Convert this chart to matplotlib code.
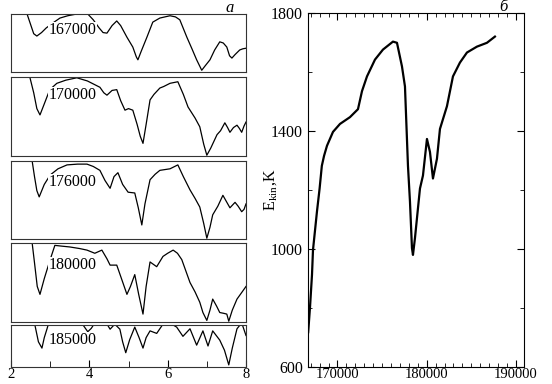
import numpy as np
import matplotlib.pyplot as plt
from matplotlib.ticker import MultipleLocator

plt.rcParams['font.family'] = ['Liberation Serif', 'DejaVu Serif']
plt.rcParams['mathtext.fontset'] = 'stix'

# panel a: profiles at different steps (y normalised to panel height)
steps = ['167000', '170000', '176000', '180000', '185000']

x167 = [2.35, 2.41, 2.5, 2.58, 2.66, 2.78, 2.9, 3.0, 3.1, 3.25, 3.45, 3.68, 3.96, 4.1, 4.25, 4.35,
        4.45, 4.58, 4.7, 4.8, 4.96, 5.11, 5.2, 5.24, 5.32, 5.47, 5.62, 5.8, 6.06, 6.2, 6.31, 6.49,
        6.62, 6.74, 6.87, 6.95, 7.08, 7.2, 7.33, 7.42, 7.51, 7.58, 7.64, 7.72, 7.84, 7.92, 8.0]
y167 = [1.1, 1.0, 0.82, 0.66, 0.62, 0.68, 0.76, 0.81, 0.86, 0.93, 0.97, 1.0, 1.0, 0.9, 0.76, 0.68,
        0.67, 0.8, 0.88, 0.8, 0.6, 0.43, 0.26, 0.21, 0.35, 0.6, 0.86, 0.93, 0.97, 0.95, 0.9, 0.6,
        0.4, 0.21, 0.03, 0.1, 0.21, 0.38, 0.52, 0.5, 0.43, 0.28, 0.24, 0.3, 0.38, 0.4, 0.41]

x170 = [2.42, 2.48, 2.58, 2.66, 2.74, 2.85, 2.99, 3.17, 3.4, 3.68, 3.95, 4.27, 4.37, 4.45, 4.58,
        4.7, 4.8, 4.91, 5.0, 5.11, 5.22, 5.3, 5.37, 5.45, 5.55, 5.65, 5.8, 5.9, 6.06, 6.26, 6.4,
        6.52, 6.7, 6.82, 6.92, 7.0, 7.1, 7.26, 7.35, 7.46, 7.53, 7.59, 7.68, 7.77, 7.83, 7.89, 7.95, 8.0]
y170 = [1.1, 1.0, 0.8, 0.6, 0.52, 0.66, 0.84, 0.92, 0.96, 0.99, 0.95, 0.87, 0.8, 0.77, 0.83,
        0.84, 0.7, 0.58, 0.6, 0.58, 0.4, 0.25, 0.16, 0.4, 0.71, 0.78, 0.86, 0.88, 0.92, 0.94, 0.78,
        0.62, 0.48, 0.37, 0.15, 0.01, 0.1, 0.27, 0.32, 0.42, 0.36, 0.3, 0.36, 0.39, 0.35, 0.3, 0.38, 0.43]

x176 = [2.0, 2.54, 2.6, 2.66, 2.72, 2.85, 3.0, 3.2, 3.43, 3.7, 3.94, 4.1, 4.27, 4.4, 4.53, 4.63,
        4.73, 4.85, 4.99, 5.16, 5.25, 5.34, 5.42, 5.55, 5.68, 5.8, 6.06, 6.26, 6.4, 6.57, 6.7,
        6.82, 6.92, 7.0, 7.08, 7.15, 7.28, 7.41, 7.5, 7.59, 7.72, 7.8, 7.89, 7.95, 8.0]
y176 = [1.0, 1.0, 0.8, 0.62, 0.54, 0.7, 0.82, 0.9, 0.95, 0.96, 0.96, 0.93, 0.88, 0.75, 0.65, 0.8,
        0.85, 0.7, 0.6, 0.59, 0.4, 0.18, 0.45, 0.76, 0.83, 0.88, 0.9, 0.95, 0.8, 0.63, 0.52,
        0.41, 0.2, 0.01, 0.15, 0.31, 0.42, 0.56, 0.48, 0.4, 0.47, 0.42, 0.35, 0.38, 0.45]

x180 = [2.48, 2.54, 2.6, 2.67, 2.74, 2.85, 3.0, 3.12, 3.3, 3.5, 3.75, 3.94, 4.14, 4.32, 4.45, 4.53,
        4.7, 4.82, 4.96, 5.05, 5.16, 5.26, 5.37, 5.45, 5.55, 5.72, 5.88, 6.0, 6.14, 6.25, 6.36,
        6.57, 6.7, 6.82, 6.9, 7.0, 7.08, 7.15, 7.25, 7.33, 7.43, 7.51, 7.56, 7.65, 7.77, 7.9, 8.0]
y180 = [1.1, 1.0, 0.75, 0.45, 0.35, 0.55, 0.79, 0.97, 0.96, 0.95, 0.93, 0.91, 0.87, 0.91, 0.8, 0.72,
        0.72, 0.55, 0.35, 0.45, 0.6, 0.35, 0.1, 0.45, 0.76, 0.7, 0.83, 0.87, 0.91, 0.87, 0.79,
        0.5, 0.38, 0.25, 0.12, 0.02, 0.15, 0.29, 0.2, 0.12, 0.11, 0.1, 0.01, 0.15, 0.29, 0.38, 0.45]

x185 = [2.55, 2.61, 2.7, 2.79, 2.85, 2.92, 2.98, 3.7, 3.84, 3.96, 4.05, 4.14, 4.4, 4.53, 4.65,
        4.78, 4.85, 4.93, 5.03, 5.16, 5.27, 5.37, 5.45, 5.55, 5.72, 5.88, 6.05, 6.23, 6.39, 6.57,
        6.74, 6.9, 7.03, 7.15, 7.33, 7.45, 7.56, 7.65, 7.77, 7.89, 8.0]
y185 = [1.2, 1.0, 0.6, 0.45, 0.7, 0.91, 1.1, 1.1, 1.0, 0.84, 0.92, 1.05, 1.1, 0.9, 1.02,
        0.9, 0.6, 0.34, 0.65, 0.95, 0.7, 0.45, 0.7, 0.86, 0.8, 1.02, 1.05, 0.95, 0.73, 0.91,
        0.52, 0.86, 0.5, 0.86, 0.64, 0.4, 0.05, 0.45, 0.91, 1.05, 0.75]

xs = [x167, x170, x176, x180, x185]
ys = [y167, y170, y176, y180, y185]

# panel b: kinetic energy vs step
step = [166720, 166924, 167148, 167260, 167708, 168000, 168250, 168500, 168828, 169500, 170284,
        171404, 172300, 172748, 173308, 174204, 175100, 176220, 176668, 177228, 177564, 177900,
        178124, 178348, 178460, 178684, 179020, 179244, 179580, 180028, 180364, 180700, 181148,
        181484, 182268, 182940, 183724, 184508, 185628, 186748, 187644]
ekin = [718, 802, 913, 997, 1128, 1205, 1282, 1316, 1350, 1397, 1424,
        1447, 1474, 1535, 1585, 1642, 1676, 1703, 1699, 1619, 1551, 1282,
        1161, 1003, 980, 1037, 1138, 1205, 1249, 1373, 1329, 1239, 1306,
        1407, 1484, 1585, 1632, 1666, 1686, 1699, 1720]

fig = plt.figure(figsize=(5.52, 3.84), dpi=100)

W, H = 552.0, 384.0
boxes = [(14, 72), (77, 156), (161, 239), (243, 322), (325, 367)]
label_y = [0.72, 0.77, 0.73, 0.72, 0.64]
for i, (top, bot) in enumerate(boxes):
    ax = fig.add_axes([11 / W, 1 - bot / H, 235 / W, (bot - top) / H])
    ax.plot(xs[i], ys[i], color='black', lw=0.9)
    ax.set_xlim(2, 8)
    ax.set_ylim(0, 1)
    ax.set_yticks([])
    for s in ax.spines.values():
        s.set_color('#333333')
    ax.text(0.16, label_y[i], steps[i], transform=ax.transAxes, fontsize=11.5,
            ha='left', va='center',
            bbox=dict(facecolor='white', edgecolor='none', pad=0.3))
    if i < 4:
        ax.set_xticks([])
    else:
        ax.set_xticks([2, 4, 6, 8])
        ax.xaxis.set_minor_locator(MultipleLocator(1))
        ax.tick_params(axis='x', which='both', direction='in', labelsize=10.5, pad=0.5)
        ax.tick_params(axis='x', which='major', length=5)
        ax.tick_params(axis='x', which='minor', length=4)

fig.text(230 / W, 1 - 8 / H, 'a', fontsize=12, style='italic', ha='center', va='center')

axb = fig.add_axes([308 / W, 1 - 367 / H, 216 / W, 354 / H])
axb.plot(step, ekin, color='black', lw=1.6)
axb.set_xlim(166700, 190900)
axb.set_ylim(600, 1800)
axb.set_xticks([170000, 180000, 190000])
axb.set_yticks([600, 1000, 1400, 1800])
axb.xaxis.set_minor_locator(MultipleLocator(1000))
axb.yaxis.set_minor_locator(MultipleLocator(200))
axb.tick_params(which='both', direction='in', top=True, right=True, labelsize=11.5)
axb.tick_params(axis='x', which='both', pad=0.5, labelsize=10.5)
axb.tick_params(which='major', length=5)
axb.tick_params(which='minor', length=3)
fig.text(271 / W, 1 - 190 / H, r'E$_{\mathregular{kin}}$,K', rotation=90,
         fontsize=11.5, ha='center', va='center')
fig.text(503 / W, 1 - 7 / H, 'б', fontsize=12, style='italic', ha='center', va='center')

fig.savefig('out.png', dpi=100)
